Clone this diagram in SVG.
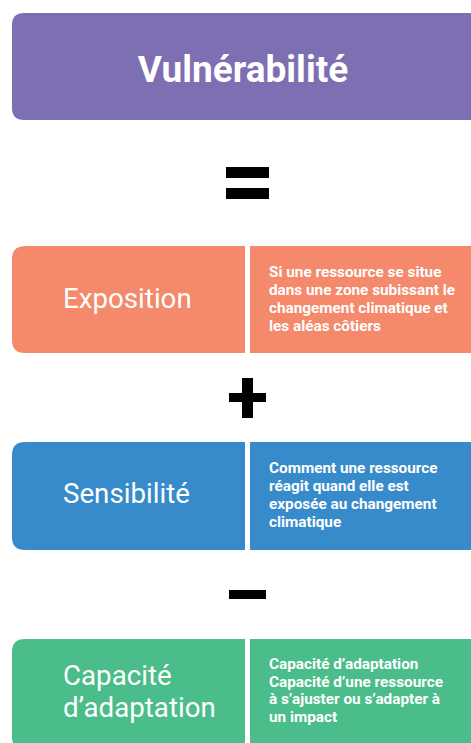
<svg xmlns="http://www.w3.org/2000/svg" width="471" height="743" viewBox="0 0 471 743">
<style>
.title{font-family:Roboto,"Liberation Sans",sans-serif;font-weight:bold;font-size:37px;fill:#fff}
.lbl{font-family:Roboto,"Liberation Sans",sans-serif;font-size:27.7px;fill:#fff}
.desc{font-family:Roboto,"Liberation Sans",sans-serif;font-weight:bold;font-size:15.3px;fill:#fff}
.op{fill:#000}
</style>
<rect width="471" height="743" fill="#fff"/>
<g id="vulnerabilite">
<path d="M24 13 H471 V120 H24 Q12 120 12 108 V25 Q12 13 24 13 Z" fill="#7E6FB2"/>
<text class="title" x="243" y="82" text-anchor="middle">Vulnérabilité</text>
</g>
<g id="operators">
<rect class="op" x="226" y="167" width="43" height="11"/>
<rect class="op" x="226" y="188" width="43" height="11"/>
<rect class="op" x="242" y="378" width="11" height="40"/>
<rect class="op" x="229" y="393" width="37" height="9"/>
<rect class="op" x="229" y="590" width="37" height="9"/>
</g>
<g id="exposition">
<path d="M25 246 H245 V353 H25 Q12 353 12 340 V259 Q12 246 25 246 Z" fill="#F4896B"/>
<rect x="250" y="246" width="221" height="107" fill="#F4896B"/>
<text class="lbl" x="63" y="308">Exposition</text>
<text class="desc" x="269" y="277">Si une ressource se situe</text>
<text class="desc" x="269" y="295">dans une zone subissant le</text>
<text class="desc" x="269" y="313">changement climatique et</text>
<text class="desc" x="269" y="331">les aléas côtiers</text>
</g>
<g id="sensibilite">
<path d="M25 442 H245 V550 H25 Q12 550 12 537 V455 Q12 442 25 442 Z" fill="#388BCB"/>
<rect x="250" y="442" width="221" height="108" fill="#388BCB"/>
<text class="lbl" x="63" y="503">Sensibilité</text>
<text class="desc" x="269" y="473">Comment une ressource</text>
<text class="desc" x="269" y="491">réagit quand elle est</text>
<text class="desc" x="269" y="509">exposée au changement</text>
<text class="desc" x="269" y="527">climatique</text>
</g>
<g id="capacite">
<path d="M25 639 H245 V750 H25 Q12 750 12 737 V652 Q12 639 25 639 Z" fill="#4BBD8A"/>
<rect x="250" y="639" width="221" height="111" fill="#4BBD8A"/>
<text class="lbl" x="63" y="685">Capacité</text>
<text class="lbl" x="63" y="717">d’adaptation</text>
<text class="desc" x="269" y="669">Capacité d’adaptation</text>
<text class="desc" x="269" y="687">Capacité d’une ressource</text>
<text class="desc" x="269" y="704">à s’ajuster ou s’adapter à</text>
<text class="desc" x="269" y="722">un impact</text>
</g>
<g id="connectors"></g>
</svg>
